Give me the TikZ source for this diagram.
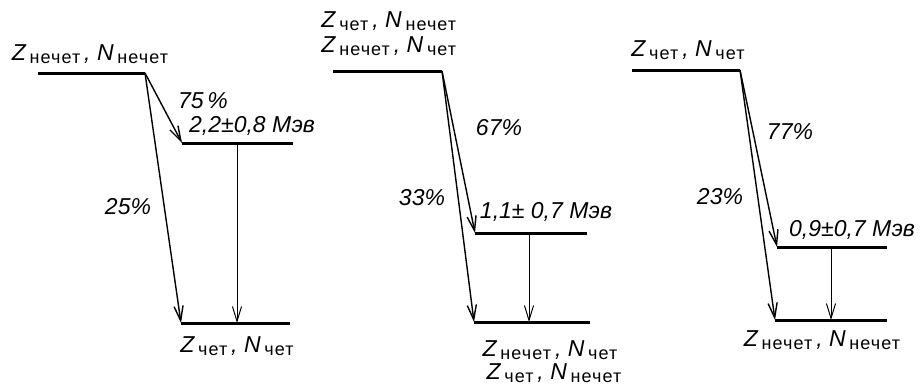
\documentclass[tikz,border=0pt]{standalone}
\usepackage{fontspec}
\setmainfont{Liberation Sans}
\newfontfamily\subfont{Liberation Sans}[LetterSpace=6]
\usetikzlibrary{arrows.meta}
\newcommand{\lowsub}[1]{\raisebox{-0.3ex}{\subfont\upshape\fontsize{9}{10}\selectfont #1}}
\newcommand{\nucl}[2]{\textit{Z}\,\lowsub{#1}\,, \textit{N}\,\lowsub{#2}}

\begin{document}
\begin{tikzpicture}[x=0.5pt, y=-0.5pt, >={Straight Barb[length=2.6mm, width=1.6mm]},
  level/.style={line width=1.5pt},
  decay/.style={->, line width=0.7pt},
  lbl/.style={font=\itshape\fontsize{11.5}{13}\selectfont, inner sep=0pt}]
\useasboundingbox (0,0) rectangle (921,386);
% first scheme: odd Z, odd N
\coordinate (t1l) at (38,73);   \coordinate (t1r) at (145,73);
\coordinate (m1l) at (182,143); \coordinate (m1r) at (293,143);
\coordinate (b1l) at (181,323); \coordinate (b1r) at (290,323);
\coordinate (g1) at (237,143);
\draw[level] (t1l) -- (t1r);
\draw[level] (m1l) -- (m1r);
\draw[level] (b1l) -- (b1r);
\draw[decay] (t1r) -- (m1l);
\draw[decay] (t1r) -- (b1l);
\draw[decay, line width=0.5pt] (g1) -- (g1 |- b1l);
\node[lbl] (top1) at (90,54) {\nucl{нечет}{нечет}};
\node[lbl] (p1a) at (203,101) {75\,\%};
\node[lbl] (e1) at (252,126) {2,2±0,8 Мэв};
\node[lbl] (p1b) at (128,207) {25\%};
\node[lbl] (bot1) at (237,346) {\nucl{чет}{чет}};
% second scheme: even-odd nuclei
\coordinate (t2l) at (333,71);  \coordinate (t2r) at (442,71);
\coordinate (m2l) at (475,233); \coordinate (m2r) at (587,233);
\coordinate (b2l) at (474,322); \coordinate (b2r) at (590,322);
\coordinate (g2) at (529,233);
\draw[level] (t2l) -- (t2r);
\draw[level] (m2l) -- (m2r);
\draw[level] (b2l) -- (b2r);
\draw[decay] (t2r) -- (m2l);
\draw[decay] (t2r) -- (b2l);
\draw[decay, line width=0.5pt] (g2) -- (g2 |- b2l);
\node[lbl, anchor=west] (top2a) at (321,21) {\nucl{чет}{нечет}};
\node[lbl, anchor=west] (top2b) at (321,46) {\nucl{нечет}{чет}};
\node[lbl] (p2a) at (499,128) {67\%};
\node[lbl] (e2) at (546,212) {1,1± 0,7 Мэв};
\node[lbl] (p2b) at (422,198) {33\%};
\node[lbl] (bot2a) at (550,350) {\nucl{нечет}{чет}};
\node[lbl] (bot2b) at (554,373) {\nucl{чет}{нечет}};
% third scheme: even Z, even N
\coordinate (t3l) at (632,70);  \coordinate (t3r) at (740,70);
\coordinate (m3l) at (777,247); \coordinate (m3r) at (887,247);
\coordinate (b3l) at (775,320); \coordinate (b3r) at (887,320);
\coordinate (g3) at (831,247);
\draw[level] (t3l) -- (t3r);
\draw[level] (m3l) -- (m3r);
\draw[level] (b3l) -- (b3r);
\draw[decay] (t3r) -- (m3l);
\draw[decay] (t3r) -- (b3l);
\draw[decay, line width=0.5pt] (g3) -- (g3 |- b3l);
\node[lbl] (top3) at (688,50) {\nucl{чет}{чет}};
\node[lbl] (p3a) at (790,132) {77\%};
\node[lbl] (e3) at (852,230) {0,9±0,7 Мэв};
\node[lbl] (p3b) at (720,197) {23\%};
\node[lbl] (bot3) at (822,340) {\nucl{нечет}{нечет}};
\end{tikzpicture}
\end{document}
